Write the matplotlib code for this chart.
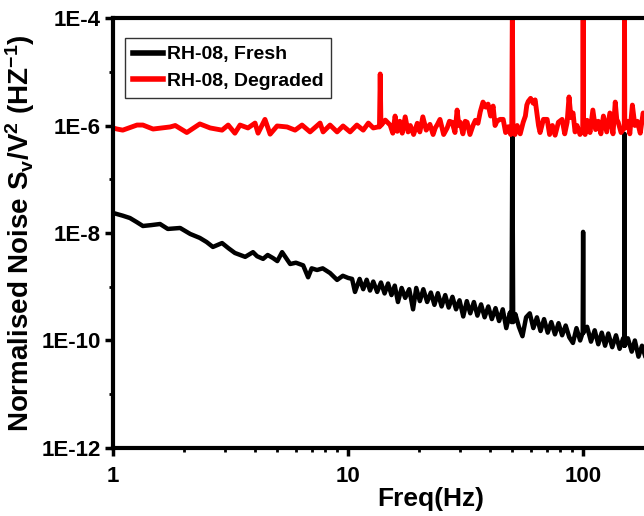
import numpy as np
import matplotlib
matplotlib.use('Agg')
import matplotlib.pyplot as plt
from matplotlib.ticker import FixedLocator, FuncFormatter, NullFormatter

plt.rcParams['font.family'] = ['Liberation Sans', 'DejaVu Sans']
plt.rcParams['font.weight'] = 'bold'
plt.rcParams['mathtext.fontset'] = 'custom'
plt.rcParams['mathtext.rm'] = 'Liberation Sans:bold'
plt.rcParams['mathtext.it'] = 'Liberation Sans:bold'
plt.rcParams['mathtext.bf'] = 'Liberation Sans:bold'
plt.rcParams['mathtext.default'] = 'rm'

# RH-08 fresh (black)
freq_fresh = [1.0, 1.04, 1.1, 1.18, 1.26, 1.34, 1.45, 1.585, 1.71, 1.93, 2.13, 2.34, 2.5, 2.66,
              2.91, 3.1, 3.3, 3.65, 3.94, 4.1, 4.35, 4.55, 4.8, 5.0, 5.24, 5.67, 6.0, 6.44, 6.76,
              7.0, 7.38, 7.8, 8.38, 8.98, 9.5, 10.0,
              10.4, 10.7, 11.2, 11.6, 12.0, 12.4, 12.8, 13.3, 13.8, 14.3, 14.8, 15.3, 15.8, 16.3,
              16.9, 17.5, 18.2, 18.9, 19.5, 20.2, 20.9, 21.7, 22.5, 23.3, 24.1, 25.0, 25.9, 26.8,
              27.8, 28.8, 29.8, 30.9, 32.0, 33.1, 34.3, 35.5, 36.8, 38.1, 39.5, 40.9, 42.4, 43.9,
              45.5, 47.1, 48.8, 49.6, 50.0, 50.4, 51.5, 53.3, 55.2, 57.2, 59.3, 61.4, 63.6, 65.9,
              68.2, 70.7, 73.2, 75.9, 78.6, 81.4, 84.3, 87.3, 90.5, 93.7, 97.1, 99.6, 100.0, 100.4,
              104, 108, 112, 116, 120, 124, 128, 133, 138, 143, 148, 149.6, 150.0, 150.4, 155,
              161, 166, 172, 178, 185, 191]
noise_fresh = [2.36e-8, 2.25e-8, 2.1e-8, 1.9e-8, 1.6e-8, 1.35e-8, 1.4e-8, 1.47e-8, 1.19e-8, 1.24e-8,
               9.6e-9, 8.1e-9, 6.8e-9, 5.5e-9, 6.5e-9, 5.2e-9, 4.25e-9, 3.6e-9, 4.4e-9, 3.7e-9,
               3.3e-9, 3.9e-9, 3.4e-9, 3.0e-9, 4.4e-9, 2.65e-9, 2.8e-9, 2.5e-9, 1.5e-9, 2.2e-9,
               2.05e-9, 2.2e-9, 1.8e-9, 1.34e-9, 1.6e-9, 1.46e-9,
               1.4e-9, 8.0e-10, 1.4e-9, 9.0e-10, 1.35e-9, 8.5e-10, 1.25e-9, 8.0e-10, 1.2e-9, 7.5e-10,
               1.15e-9, 7.0e-10, 1.05e-9, 5.2e-10, 9.5e-10, 6.2e-10, 9.0e-10, 3.8e-10, 9.5e-10,
               5.4e-10, 9.0e-10, 5.2e-10, 7.8e-10, 4.6e-10, 7.6e-10, 4.3e-10, 7.0e-10, 4.1e-10,
               6.5e-10, 3.8e-10, 5.6e-10, 2.8e-10, 5.4e-10, 3.2e-10, 5.2e-10, 2.9e-10, 4.7e-10,
               2.7e-10, 4.3e-10, 2.5e-10, 4.0e-10, 2.3e-10, 3.8e-10, 1.7e-10, 3.3e-10, 2.2e-10,
               7e-7, 2.2e-10, 3.1e-10, 1.8e-10, 1.2e-10, 2.7e-10, 3.2e-10, 1.7e-10, 2.7e-10,
               1.5e-10, 2.5e-10, 1.4e-10, 2.2e-10, 1.3e-10, 2.1e-10, 1.25e-10, 1.9e-10, 1.15e-10,
               9.0e-11, 1.7e-10, 1.0e-10, 1.4e-10, 1.05e-8, 1.4e-10, 1.8e-10, 9.5e-11, 1.55e-10,
               8.5e-11, 1.4e-10, 8.0e-11, 1.35e-10, 7.5e-11, 1.25e-10, 7.0e-11, 1.1e-10, 8e-11,
               7e-7, 8e-11, 1.1e-10, 6.2e-11, 1.0e-10, 5.0e-11, 8.0e-11, 4.6e-11, 7.0e-11]

# RH-08 degraded (red)
freq_degr = [1.0, 1.04, 1.1, 1.265, 1.34, 1.48, 1.75, 1.84, 2.06, 2.34, 2.59, 2.91, 3.09, 3.3,
             3.47, 3.75, 4.02, 4.14, 4.43, 4.66, 4.99, 5.5, 5.95, 6.37, 6.89, 7.6, 7.83, 8.38,
             8.98, 9.52, 10.2, 10.9, 11.6, 12.2, 12.8, 13.4, 13.6, 13.7, 13.8, 14.4, 15.1,
             15.5, 15.85, 16.2, 16.6, 17.0, 17.5, 18.0, 18.4, 19.0, 19.7, 20.2, 20.8, 21.5, 22.3,
             23.0, 23.5, 24.0, 24.6, 25.5, 26.4, 27.0, 27.7, 28.5, 29.1, 29.6, 30.0, 30.8, 31.5,
             32.1, 33.0, 34.0, 34.8, 35.7, 36.5, 37.5, 38.5, 39.4, 40.4, 41.4, 42.2, 43.0, 44.3,
             45.7, 46.8, 48.0, 49.2, 49.7, 50.0, 50.3, 51.3, 52.4, 54.0, 55.6, 56.8, 57.6, 58.4,
             59.8, 61.3, 62.5, 63.7, 64.6, 65.6, 67.8, 70.3, 72.0, 74.0, 76.0, 78.5, 81.4, 83.5,
             85.5, 87.1, 88.8, 90.6, 92.4, 94.2, 97.0, 99.6, 100.0, 100.4, 102, 104, 107, 110,
             113, 116, 119, 122, 126, 130, 134, 137, 139, 141, 145, 149.6, 150.0, 150.4, 155,
             158, 162, 166, 170, 175, 180, 186, 191]
noise_degr = [9.0e-7, 8.6e-7, 8.2e-7, 1.02e-6, 1.02e-6, 8.6e-7, 9.4e-7, 1.0e-6, 7.4e-7, 1.07e-6,
              9.0e-7, 8.2e-7, 1.02e-6, 7.2e-7, 1.02e-6, 9.0e-7, 1.11e-6, 7.2e-7, 1.3e-6, 6.9e-7,
              9.8e-7, 9.4e-7, 8.2e-7, 1.02e-6, 7.6e-7, 1.11e-6, 7.6e-7, 1.02e-6, 7.6e-7, 9.8e-7,
              7.6e-7, 1.02e-6, 8.2e-7, 1.11e-6, 9.0e-7, 9.4e-7, 9.4e-7, 9.1e-6, 1.0e-6, 1.26e-6,
              1.02e-6,
              7.2e-7, 1.5e-6, 7.8e-7, 1.2e-6, 7.2e-7, 1.45e-6, 7.6e-7, 1.0e-6, 6.8e-7, 1.1e-6,
              7.6e-7, 1.45e-6, 8.2e-7, 1.05e-6, 6.8e-7, 9.0e-7, 1.05e-6, 1.3e-6, 6.8e-7, 9.0e-7,
              1.2e-6, 1.15e-6, 7.4e-7, 1.94e-6, 1.0e-6, 1.15e-6, 7.0e-7, 1.2e-6, 1.15e-6, 6.8e-7,
              1.0e-6, 1.25e-6, 1.1e-6, 1.8e-6, 2.73e-6, 2.2e-6, 2.5e-6, 1.5e-6, 2.3e-6, 1.0e-6,
              1.2e-6, 1.3e-6, 1.3e-6, 7.4e-7, 9.5e-7, 6.8e-7, 9e-7, 2e-4, 9e-7, 6.8e-7, 1.0e-6,
              7.0e-7, 1.15e-6, 1.5e-6, 2.4e-6, 2.8e-6, 3.2e-6, 2.6e-6, 3.0e-6, 1.6e-6, 1.0e-6,
              7.4e-7, 1.3e-6, 1.3e-6, 6.8e-7, 1.0e-6, 6.6e-7, 1.15e-6, 1.3e-6, 7.0e-7, 1.15e-6,
              3.4e-6, 1.4e-6, 1.71e-6, 7.6e-7, 1.0e-6, 6.8e-7, 9e-7, 2e-4, 9e-7, 6.8e-7, 1.25e-6,
              7.4e-7, 1.94e-6, 8.4e-7, 1.2e-6, 7.0e-7, 1.5e-6, 7.6e-7, 1.71e-6, 7.0e-7, 2.73e-6,
              1.3e-6, 1.15e-6, 7.4e-7, 9e-7, 2e-4, 9e-7, 1.2e-6, 7.0e-7, 2.4e-6, 1.0e-6, 1.2e-6,
              7.2e-7, 1.71e-6, 1.0e-6, 1.3e-6]

labels = ['RH-08, Fresh', 'RH-08, Degraded']

fig = plt.figure(figsize=(6.44, 5.16), dpi=100)
ax = fig.add_axes([0.1755, 0.1318, 0.9876, 0.8333])

ax.plot(freq_fresh, noise_fresh, color='black', lw=3.2, label=labels[0])
ax.plot(freq_degr, noise_degr, color='red', lw=3.5, label=labels[1])

ax.set_xscale('log')
ax.set_yscale('log')
ax.set_xlim(1, 508)
ax.set_ylim(1e-12, 1e-4)

ax.yaxis.set_major_locator(FixedLocator([1e-12, 1e-10, 1e-8, 1e-6, 1e-4]))
ax.yaxis.set_minor_locator(FixedLocator([1e-11, 1e-9, 1e-7, 1e-5]))
ax.yaxis.set_major_formatter(FuncFormatter(lambda v, p: '1E%d' % round(np.log10(v))))
ax.yaxis.set_minor_formatter(NullFormatter())
ax.xaxis.set_major_formatter(FuncFormatter(lambda v, p: '%g' % v))
ax.xaxis.set_minor_formatter(NullFormatter())

for s in ax.spines.values():
    s.set_linewidth(3)
ax.tick_params(which='major', direction='out', length=6, width=2.5, labelsize=16, pad=3)
ax.tick_params(axis='x', which='major', pad=7)
ax.tick_params(which='minor', direction='out', length=3, width=2)

ax.set_xlabel('Freq(Hz)', fontsize=19, fontweight='bold', labelpad=0)
ax.set_ylabel(r'Normalised Noise S$_{v}$/V$^{2}$ (HZ$^{-1}$)', fontsize=20,
              fontweight='bold', labelpad=3)

leg = ax.legend(loc='upper left', bbox_to_anchor=(0.019, 0.9535), borderaxespad=0,
                prop={'size': 14, 'weight': 'bold'}, frameon=True, fancybox=False,
                handlelength=1.55, handletextpad=0.2, labelspacing=0.45, borderpad=0.4)
leg.get_frame().set_edgecolor('black')
leg.get_frame().set_linewidth(1)
for line in leg.get_lines():
    line.set_linewidth(4)

fig.savefig('out.png', dpi=100)
